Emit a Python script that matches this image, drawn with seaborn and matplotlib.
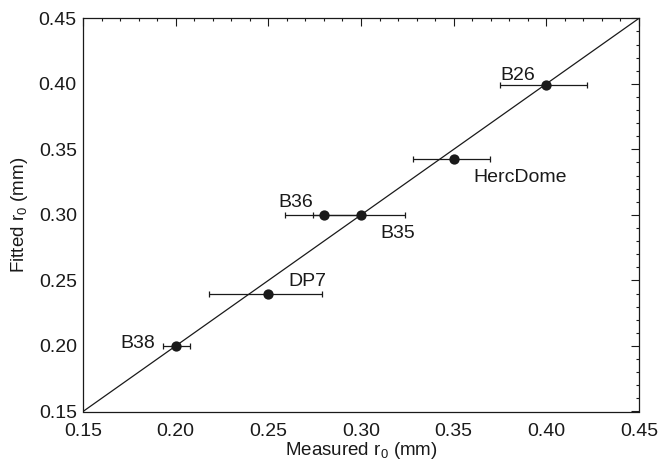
import matplotlib
matplotlib.use("Agg")
import matplotlib.pyplot as plt
import seaborn as sns
import pandas as pd
from matplotlib.ticker import MultipleLocator, FormatStrFormatter

sns.set_theme(style="white")
plt.rcParams['font.family'] = ['Liberation Sans', 'DejaVu Sans']
plt.rcParams['mathtext.fontset'] = 'custom'
plt.rcParams['mathtext.rm'] = 'Liberation Sans'
plt.rcParams['mathtext.it'] = 'Liberation Sans'

names = ["B38", "DP7", "B36", "B35", "HercDome", "B26"]
measured = [0.200, 0.250, 0.280, 0.300, 0.350, 0.400]
fitted = [0.200, 0.240, 0.300, 0.300, 0.343, 0.399]
err_lo = [0.007, 0.032, 0.021, 0.026, 0.022, 0.025]
err_hi = [0.008, 0.029, 0.021, 0.0235, 0.0195, 0.022]
label_dx = [-40, 14.2, -32.8, 13.7, 14.4, -32.9]
label_dy = [-1.2, 5.3, 5.8, -16.9, -16.6, 3.8]

df = pd.DataFrame({"name": names, "measured": measured, "fitted": fitted})

fig = plt.figure(figsize=(6.6, 4.62), dpi=100)
ax = fig.add_axes([83/660, 1-411.5/462, (639-83)/660, (411.5-18.3)/462])

ink = "#1a1a1a"
# 1:1 line
sns.lineplot(x=[0.15, 0.45], y=[0.15, 0.45], ax=ax, color=ink, lw=0.9)
ax.errorbar(measured, fitted, xerr=[err_lo, err_hi], fmt="none",
            ecolor=ink, elinewidth=0.9, capsize=2, capthick=0.9)
sns.scatterplot(data=df, x="measured", y="fitted", ax=ax, color=ink,
                s=55, edgecolor=ink, linewidth=0, zorder=5)

for n, x, y, dx, dy in zip(names, measured, fitted, label_dx, label_dy):
    ax.annotate(n, (x, y), xytext=(dx, dy), textcoords="offset points",
                fontsize=14, color=ink, ha="left", va="baseline")

ax.set_xlim(0.15, 0.45)
ax.set_ylim(0.15, 0.45)
ax.xaxis.set_major_locator(MultipleLocator(0.05))
ax.yaxis.set_major_locator(MultipleLocator(0.05))
ax.xaxis.set_minor_locator(MultipleLocator(0.01))
ax.yaxis.set_minor_locator(MultipleLocator(0.01))
ax.xaxis.set_major_formatter(FormatStrFormatter("%.2f"))
ax.yaxis.set_major_formatter(FormatStrFormatter("%.2f"))
ax.tick_params(which="both", direction="in", top=True, right=True,
               color=ink, labelcolor=ink, labelsize=14, width=0.8)
ax.tick_params(which="major", length=5.8)
ax.tick_params(which="minor", length=2.5)
ax.tick_params(axis="y", which="major", pad=4.5)
ax.tick_params(axis="x", which="major", pad=8)
for s in ax.spines.values():
    s.set_color(ink)
    s.set_linewidth(0.9)

ax.set_xlabel("Measured r$_0$ (mm)", fontsize=13.5, color=ink, labelpad=0)
ax.set_ylabel("Fitted r$_0$ (mm)", fontsize=13.5, color=ink, labelpad=6)

fig.savefig("out.png", dpi=100)
